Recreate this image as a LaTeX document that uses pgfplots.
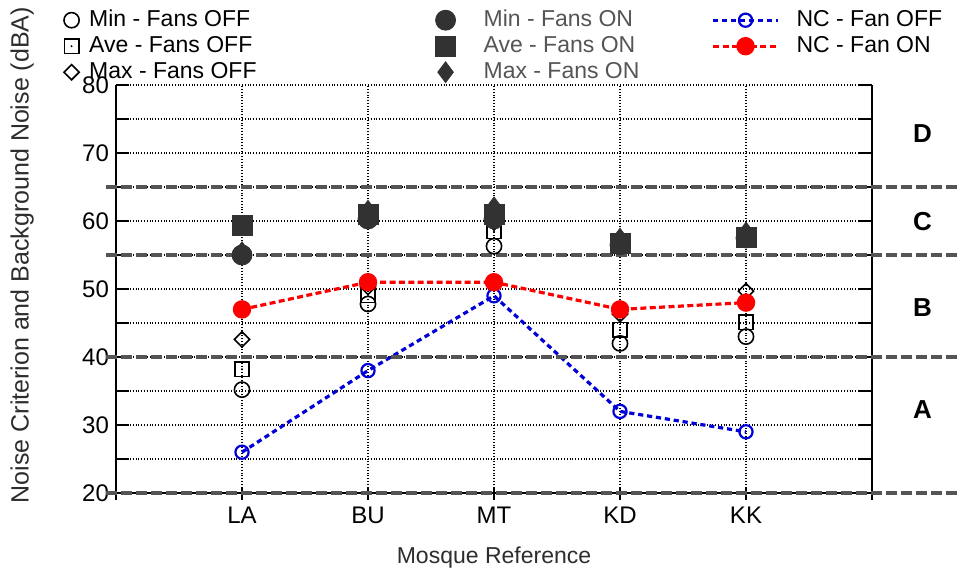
\documentclass[border=0pt]{standalone}
\usepackage{pgfplots}
\pgfplotsset{compat=1.18}
\usepackage{fontspec}
\setmainfont{Liberation Sans}
\definecolor{zone}{RGB}{85,85,85}
\definecolor{onfill}{RGB}{50,50,50}
\definecolor{ncblue}{RGB}{0,0,215}
\definecolor{ncred}{RGB}{255,0,0}
\definecolor{labgray}{RGB}{45,45,45}
\definecolor{legon}{RGB}{85,85,85}
\pgfdeclareplotmark{sqdot}{%
  \pgfpathrectangle{\pgfqpoint{-\pgfplotmarksize}{-\pgfplotmarksize}}{\pgfqpoint{2\pgfplotmarksize}{2\pgfplotmarksize}}%
  \pgfusepathqstroke
  \pgfpathcircle{\pgfpointorigin}{0.55pt}\pgfusepathqfill}
\pgfdeclareplotmark{dia}{%
  \pgfpathmoveto{\pgfqpoint{0pt}{\pgfplotmarksize}}%
  \pgfpathlineto{\pgfqpoint{\pgfplotmarksize}{0pt}}%
  \pgfpathlineto{\pgfqpoint{0pt}{-\pgfplotmarksize}}%
  \pgfpathlineto{\pgfqpoint{-\pgfplotmarksize}{0pt}}%
  \pgfpathclose\pgfusepathqstroke}
\pgfplotsset{
  markleg/.style={legend image code/.code={\draw[##1] plot coordinates {(0cm,0cm)};}},
  lineleg/.style={legend image code/.code={\draw[mark repeat=2,mark phase=2,##1] plot coordinates {(0cm,0cm) (0.57cm,0cm) (1.14cm,0cm)};}},
  minoff/.style={only marks, mark=o, mark size=3.8pt, black, line width=0.8pt},
  aveoff/.style={only marks, mark=sqdot, mark size=3.6pt, black, line width=0.8pt},
  maxoff/.style={only marks, mark=dia, mark size=3.8pt, black, line width=0.8pt},
  minon/.style={only marks, mark=*, mark size=5pt, color=onfill},
  aveon/.style={only marks, mark=square*, mark size=5pt, color=onfill},
  maxon/.style={only marks, mark=diamond*, mark size=5.2pt, color=onfill},
  ncoff/.style={ncblue, line width=1.6pt, dash pattern=on 2.6pt off 1.9pt, mark=o, mark size=3.3pt, mark options={solid, line width=1.1pt}},
  ncon/.style={ncred, line width=1.6pt, dash pattern=on 3pt off 1.7pt, mark=*, mark size=3.8pt, mark options={solid}},
}
\begin{document}
\begin{tikzpicture}
\begin{axis}[
  name=ax,
  scale only axis, width=378pt, height=204pt,
  xmin=0, xmax=6, ymin=20, ymax=80,
  clip=false,
  xtick={0,...,6}, xticklabels={,LA,BU,MT,KD,KK,},
  ytick={20,30,...,80}, minor ytick={25,35,...,75},
  axis x line*=bottom, axis y line*=box,
  xtick pos=lower, ytick pos=both,
  xtick align=center, ytick align=inside,
  major tick length=6.5pt, minor tick length=6.5pt,
  tick style={black, line width=0.9pt},
  axis line style={black, line width=1pt},
  xmajorgrids, ymajorgrids, yminorgrids,
  major grid style={densely dotted, black, line width=0.6pt},
  minor grid style={densely dotted, black, line width=0.6pt},
  /pgf/number format/assume math mode=true,
  tick label style={font=\fontsize{12}{14}\selectfont, black},
  xlabel={Mosque Reference},
  ylabel={Noise Criterion and Background Noise (dBA)},
  xlabel style={font=\fontsize{11.5}{13}\selectfont, text=labgray, at={(axis description cs:0.5,-0.159)}, anchor=center},
  ylabel style={font=\fontsize{12.5}{14}\selectfont, text=labgray, at={(axis description cs:-0.124,0.583)}, anchor=center},
  legend columns=3,
  legend cell align=left,
  legend style={draw=none, fill=none, at={(-0.0688,1.1907)}, anchor=north west,
    inner sep=0pt, outer sep=0pt, font=\fontsize{11.5}{13}\selectfont, row sep=0pt,
    nodes={inner xsep=0pt, inner ysep=1pt, text height=8.5pt, text depth=2.5pt},
    /tikz/column 1/.style={column sep=5pt},
    /tikz/column 2/.style={column sep=89.5pt},
    /tikz/column 3/.style={column sep=14pt},
    /tikz/column 4/.style={column sep=36pt},
    /tikz/column 5/.style={column sep=8.5pt}},
]
% legend images (row-wise)
\addlegendimage{minoff, markleg}\addlegendentry{Min - Fans OFF}
\addlegendimage{minon, markleg}\addlegendentry{\textcolor{legon}{Min - Fans ON}}
\addlegendimage{ncoff, lineleg}\addlegendentry{NC - Fan OFF}
\addlegendimage{aveoff, markleg}\addlegendentry{Ave - Fans OFF}
\addlegendimage{aveon, markleg}\addlegendentry{\textcolor{legon}{Ave - Fans ON}}
\addlegendimage{ncon, lineleg}\addlegendentry{NC - Fan ON}
\addlegendimage{maxoff, markleg}\addlegendentry{Max - Fans OFF}
\addlegendimage{maxon, markleg}\addlegendentry{\textcolor{legon}{Max - Fans ON}}

% Fans OFF
\addplot[minoff, forget plot] coordinates {(1,35.2) (2,47.8) (3,56.3) (4,42) (5,43)};
\addplot[aveoff, forget plot] coordinates {(1,38.2) (2,49.1) (3,58.5) (4,44) (5,45.1)};
\addplot[maxoff, forget plot] coordinates {(1,42.6) (2,50.3) (3,59.8) (4,46.3) (5,49.7)};
% Fans ON
\addplot[minon, forget plot] coordinates {(1,55) (2,60.3) (3,60.3) (4,56.5) (5,57.5)};
\addplot[aveon, forget plot] coordinates {(1,59.4) (2,61) (3,61) (4,56.7) (5,57.6)};
\addplot[maxon, forget plot] coordinates {(1,55.4) (2,61.5) (3,62) (4,57.4) (5,58.3)};
% NC
\addplot[ncoff, forget plot] coordinates {(1,26) (2,38) (3,49) (4,32) (5,29)};
\addplot[ncon, forget plot] coordinates {(1,47) (2,51) (3,51) (4,47) (5,48)};
% zone boundaries
\addplot[zone, line width=2.1pt, dash pattern=on 5.5pt off 2pt, forget plot] coordinates {(-0.08,20) (6.72,20)};
\addplot[zone, line width=2.1pt, dash pattern=on 5.5pt off 2pt, forget plot] coordinates {(-0.08,40) (6.72,40)};
\addplot[zone, line width=2.1pt, dash pattern=on 5.5pt off 2pt, forget plot] coordinates {(-0.08,55) (6.72,55)};
\addplot[zone, line width=2.1pt, dash pattern=on 5.5pt off 2pt, forget plot] coordinates {(-0.08,65) (6.72,65)};
% zone labels
\node[font=\bfseries\fontsize{13}{13}\selectfont] at (axis cs:6.40,72.9) {D};
\node[font=\bfseries\fontsize{13}{13}\selectfont] at (axis cs:6.40,59.9) {C};
\node[font=\bfseries\fontsize{13}{13}\selectfont] at (axis cs:6.40,47.2) {B};
\node[font=\bfseries\fontsize{13}{13}\selectfont] at (axis cs:6.40,32.2) {A};
\end{axis}
\pgfresetboundingbox
\path[use as bounding box] ([shift={(-58pt,-40pt)}]ax.south west) rectangle ([shift={(44pt,42.5pt)}]ax.north east);
\end{tikzpicture}
\end{document}
